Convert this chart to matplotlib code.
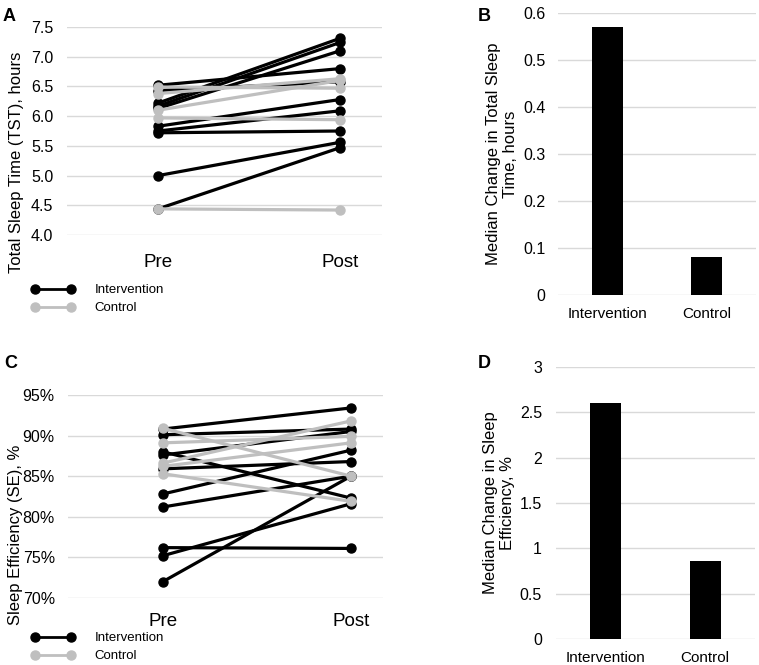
import matplotlib
matplotlib.use("Agg")
import matplotlib.pyplot as plt
from matplotlib.lines import Line2D

plt.rcParams['font.family'] = ['Liberation Sans', 'DejaVu Sans']

# Panel A - total sleep time (hours), pre vs post
tst_int_pre = [6.52, 6.22, 6.17, 6.13, 6.43, 5.83, 5.75, 5.72, 5.00, 4.44]
tst_int_post = [6.80, 7.31, 7.24, 7.10, 6.58, 6.28, 6.09, 5.75, 5.56, 5.47]
tst_ctl_pre = [6.49, 6.38, 6.10, 5.97, 4.44]
tst_ctl_post = [6.47, 6.63, 6.60, 5.94, 4.42]

# Panel C - sleep efficiency (%), pre vs post
se_int_pre = [90.8, 90.1, 88.0, 87.6, 85.9, 82.8, 81.2, 76.2, 75.2, 72.0]
se_int_post = [93.4, 90.8, 82.3, 90.5, 86.8, 88.2, 85.0, 76.1, 81.6, 85.0]
se_ctl_pre = [90.9, 89.1, 86.6, 86.2, 85.3]
se_ctl_post = [85.0, 89.9, 91.8, 89.1, 81.9]

# Panels B and D - median change
groups = ['Intervention', 'Control']
tst_median_change = [0.57, 0.08]
se_median_change = [2.60, 0.86]

time_labels = ['Pre', 'Post']

black = '#000000'
gray = '#BFBFBF'
grid_col = '#D9D9D9'

fig = plt.figure(figsize=(7.59, 6.65), dpi=100)

axA = fig.add_axes([0.0883, 0.6466, 0.415, 0.3128])
axB = fig.add_axes([0.735, 0.5564, 0.261, 0.4241])
axC = fig.add_axes([0.0896, 0.1008, 0.415, 0.3053])
axD = fig.add_axes([0.7325, 0.0391, 0.262, 0.409])


def clean(ax):
    for s in ax.spines.values():
        s.set_visible(False)
    ax.tick_params(length=0)
    ax.grid(axis='y', color=grid_col, linewidth=1.0)
    ax.set_axisbelow(True)


def paired(ax, pre_i, post_i, pre_c, post_c):
    for a, b in zip(pre_i, post_i):
        ax.plot([0, 1], [a, b], color=black, lw=2.3, marker='o', ms=6.5,
                clip_on=False, zorder=3)
    for a, b in zip(pre_c, post_c):
        ax.plot([0, 1], [a, b], color=gray, lw=2.3, marker='o', ms=6.5,
                clip_on=False, zorder=3)
    ax.set_xticks([0, 1])
    ax.set_xticklabels(time_labels, fontsize=13.5)


# A
clean(axA)
paired(axA, tst_int_pre, tst_int_post, tst_ctl_pre, tst_ctl_post)
axA.set_xlim(-0.5, 1.23)
axA.set_ylim(4.0, 7.5)
axA.set_yticks([4.0, 4.5, 5.0, 5.5, 6.0, 6.5, 7.0, 7.5])
axA.set_yticklabels(['4.0', '4.5', '5.0', '5.5', '6.0', '6.5', '7.0', '7.5'], fontsize=11.5)
axA.tick_params(axis='x', pad=14)
axA.tick_params(axis='y', pad=10)
axA.set_ylabel('Total Sleep Time (TST), hours', fontsize=12)
axA.yaxis.set_label_coords(-0.137, 0.35)

# C
clean(axC)
paired(axC, se_int_pre, se_int_post, se_ctl_pre, se_ctl_post)
axC.set_xlim(-0.503, 1.17)
axC.set_ylim(70, 95)
axC.set_yticks([70, 75, 80, 85, 90, 95])
axC.set_yticklabels([f'{v}%' for v in [70, 75, 80, 85, 90, 95]], fontsize=11.5)
axC.tick_params(axis='x', pad=11)
axC.tick_params(axis='y', pad=9.5)
axC.set_ylabel('Sleep Efficiency (SE), %', fontsize=12)
axC.yaxis.set_label_coords(-0.143, 0.31)

# B
clean(axB)
axB.bar(range(len(groups)), tst_median_change, width=0.31, color=black)
axB.set_xlim(-0.5, 1.5)
axB.set_ylim(0, 0.6)
axB.set_xticks(range(len(groups)))
axB.set_xticklabels(groups, fontsize=11)
axB.set_yticks([0, 0.1, 0.2, 0.3, 0.4, 0.5, 0.6])
axB.set_yticklabels(['0', '0.1', '0.2', '0.3', '0.4', '0.5', '0.6'], fontsize=11.5)
axB.tick_params(axis='y', pad=9)
axB.tick_params(axis='x', pad=9)
axB.set_ylabel('Median Change in Total Sleep\nTime, hours', fontsize=12)
axB.yaxis.set_label_coords(-0.20, 0.5)

# D
clean(axD)
axD.bar(range(len(groups)), se_median_change, width=0.31, color=black)
axD.set_xlim(-0.5, 1.5)
axD.set_ylim(0, 3)
axD.set_xticks(range(len(groups)))
axD.set_xticklabels(groups, fontsize=11)
axD.set_yticks([0, 0.5, 1, 1.5, 2, 2.5, 3])
axD.set_yticklabels(['0', '0.5', '1', '1.5', '2', '2.5', '3'], fontsize=11.5)
axD.tick_params(axis='y', pad=10)
axD.tick_params(axis='x', pad=9)
axD.set_ylabel('Median Change in Sleep\nEfficiency, %', fontsize=12)
axD.yaxis.set_label_coords(-0.206, 0.5)

# legends under the paired plots
handles = [Line2D([0], [0], color=black, lw=2, marker='o', ms=6.5),
           Line2D([0], [0], color=gray, lw=2, marker='o', ms=6.5)]
for y in [1 - 284 / 665, 1 - 632 / 665]:
    fig.legend(handles, ['Intervention', 'Control'], loc='upper left',
               bbox_to_anchor=(0.041, y), frameon=False, numpoints=2,
               handlelength=3.3, fontsize=9.5, labelspacing=0.45,
               handletextpad=1.5, borderpad=0, borderaxespad=0)

# panel letters
for label, x, y in [('A', 0.003, 0.988), ('B', 0.629, 0.988),
                    ('C', 0.006, 0.466), ('D', 0.629, 0.466)]:
    fig.text(x, y, label, fontsize=13, fontweight='bold', va='top')

fig.savefig('out.png', dpi=100)
